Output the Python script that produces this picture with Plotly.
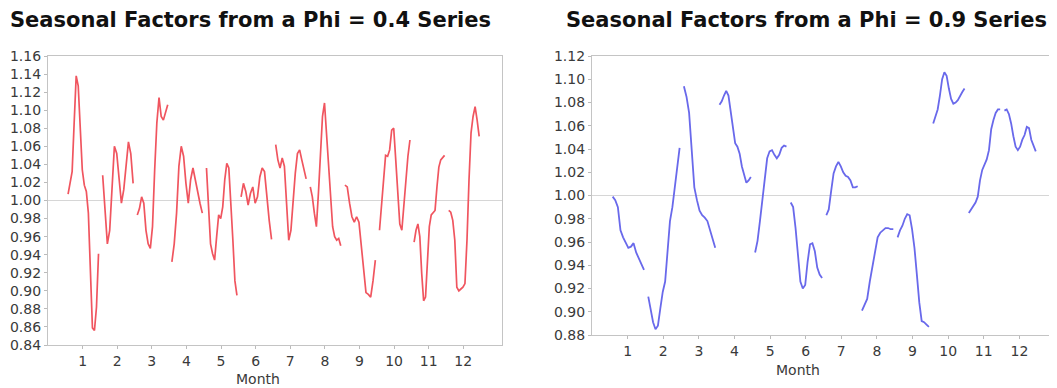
import numpy as np
import plotly.graph_objects as go

months = list(range(1, 13))
month_labels = [str(m) for m in months]

# Seasonal factors (cycle subseries, one list per month) - Phi = 0.4
phi04 = [
    [1.007, 1.019, 1.032, 1.086, 1.138, 1.127, 1.075, 1.034, 1.017, 1.010, 0.986, 0.926, 0.859, 0.856, 0.882, 0.941],
    [1.028, 0.986, 0.952, 0.967, 1.012, 1.060, 1.052, 1.023, 0.997, 1.012, 1.037, 1.065, 1.052, 1.019],
    [0.984, 0.991, 1.004, 0.997, 0.967, 0.952, 0.947, 0.971, 1.034, 1.086, 1.114, 1.093, 1.089, 1.099, 1.106],
    [0.932, 0.952, 0.986, 1.038, 1.060, 1.049, 1.019, 0.997, 1.023, 1.036, 1.023, 1.008, 0.997, 0.986],
    [1.036, 1.000, 0.952, 0.941, 0.934, 0.960, 0.984, 0.980, 0.993, 1.023, 1.041, 1.036, 1.000, 0.956, 0.911, 0.895],
    [1.004, 1.019, 1.010, 0.995, 1.008, 1.015, 0.997, 1.004, 1.026, 1.036, 1.032, 1.004, 0.978, 0.957],
    [1.062, 1.045, 1.036, 1.047, 1.038, 0.993, 0.956, 0.967, 1.000, 1.030, 1.052, 1.056, 1.045, 1.034, 1.024],
    [1.015, 1.004, 0.986, 0.971, 1.008, 1.056, 1.093, 1.108, 1.075, 1.030, 0.997, 0.971, 0.960, 0.956, 0.958, 0.950],
    [1.017, 1.015, 0.997, 0.982, 0.976, 0.982, 0.976, 0.948, 0.919, 0.898, 0.896, 0.893, 0.911, 0.934],
    [0.967, 0.993, 1.023, 1.050, 1.049, 1.056, 1.078, 1.080, 1.045, 1.004, 0.974, 0.967, 0.993, 1.026, 1.049, 1.067],
    [0.954, 0.967, 0.974, 0.960, 0.919, 0.889, 0.893, 0.937, 0.971, 0.984, 0.986, 0.989, 1.015, 1.037, 1.045, 1.047, 1.050],
    [0.989, 0.987, 0.978, 0.956, 0.904, 0.900, 0.902, 0.904, 0.908, 0.956, 1.023, 1.075, 1.093, 1.104, 1.089, 1.071],
]

# Seasonal factors - Phi = 0.9
phi09 = [
    [0.999, 0.996, 0.990, 0.970, 0.964, 0.959, 0.955, 0.956, 0.959, 0.951, 0.946, 0.940, 0.936],
    [0.913, 0.903, 0.891, 0.885, 0.888, 0.903, 0.917, 0.926, 0.949, 0.978, 0.990, 1.007, 1.025, 1.041],
    [1.094, 1.085, 1.071, 1.042, 1.007, 0.996, 0.987, 0.983, 0.981, 0.978, 0.970, 0.961, 0.955],
    [1.078, 1.081, 1.086, 1.090, 1.086, 1.071, 1.057, 1.045, 1.042, 1.036, 1.025, 1.017, 1.011, 1.013, 1.016],
    [0.951, 0.961, 0.978, 0.996, 1.013, 1.032, 1.038, 1.039, 1.035, 1.032, 1.035, 1.041, 1.043, 1.042],
    [0.994, 0.990, 0.972, 0.949, 0.926, 0.920, 0.923, 0.943, 0.958, 0.959, 0.952, 0.938, 0.932, 0.929],
    [0.983, 0.988, 1.004, 1.019, 1.025, 1.029, 1.025, 1.020, 1.017, 1.016, 1.013, 1.007, 1.007, 1.008],
    [0.901, 0.906, 0.911, 0.926, 0.940, 0.952, 0.964, 0.968, 0.970, 0.972, 0.972, 0.971, 0.971],
    [0.964, 0.970, 0.974, 0.980, 0.984, 0.983, 0.971, 0.955, 0.932, 0.908, 0.892, 0.891, 0.889, 0.887],
    [1.062, 1.068, 1.074, 1.086, 1.100, 1.106, 1.103, 1.092, 1.083, 1.079, 1.080, 1.082, 1.086, 1.089, 1.092],
    [0.985, 0.988, 0.991, 0.994, 0.999, 1.013, 1.022, 1.026, 1.031, 1.039, 1.057, 1.065, 1.071, 1.074, 1.074],
    [1.073, 1.074, 1.070, 1.062, 1.051, 1.042, 1.039, 1.042, 1.048, 1.052, 1.059, 1.058, 1.048, 1.042, 1.038],
]

titles = ["Seasonal Factors from a Phi = 0.4 Series", "Seasonal Factors from a Phi = 0.9 Series"]


def build_xy(series):
    xs, ys = [], []
    for m, vals in zip(months, series):
        off = np.linspace(-0.42, 0.46, len(vals))
        xs.extend((m + off).tolist())
        ys.extend(vals)
        xs.append(None)
        ys.append(None)
    return xs, ys


fig = go.Figure()
x1, y1 = build_xy(phi04)
x2, y2 = build_xy(phi09)
fig.add_trace(go.Scatter(x=x1, y=y1, mode="lines", line=dict(color="rgb(240,85,95)", width=1.7),
                         connectgaps=False, xaxis="x", yaxis="y", showlegend=False))
fig.add_trace(go.Scatter(x=x2, y=y2, mode="lines", line=dict(color="rgb(105,105,235)", width=1.8),
                         connectgaps=False, xaxis="x2", yaxis="y2", showlegend=False))

# page body has an 8px margin: figure is drawn offset by 8px
OFF = 8
W, H = 1057 - OFF, 388 - OFF


def px(x):
    return (x - OFF) / W


def py(y):
    return 1 - (y - OFF) / H


axis_common = dict(showline=True, linecolor="#c4c4c4", linewidth=1.2, mirror=True, showgrid=False,
                   zeroline=False, ticks="outside", ticklen=3, tickcolor="#bbbbbb", automargin=False,
                   tickfont=dict(family="DejaVu Sans", size=14, color="#3a3a3a"))

fig.update_layout(
    template="none",
    width=W, height=H,
    margin=dict(l=0, r=0, t=0, b=0, pad=0),
    paper_bgcolor="white", plot_bgcolor="white",
    xaxis=dict(domain=[px(48), px(502)], range=[0.0, 13.12], tickmode="array",
               tickvals=months, ticktext=month_labels, anchor="y", **axis_common),
    yaxis=dict(domain=[py(345), py(56)], range=[0.84, 1.16], dtick=0.02, tick0=0.84,
               tickformat=".2f", anchor="x", **axis_common),
    xaxis2=dict(domain=[px(592), px(1055)], range=[0.0, 13.0], tickmode="array",
                tickvals=months, ticktext=month_labels, anchor="y2", **axis_common),
    yaxis2=dict(domain=[py(335), py(56)], range=[0.88, 1.12], dtick=0.02, tick0=0.88,
                tickformat=".2f", anchor="x2", **axis_common),
)

# reference line at 1.00
fig.add_shape(type="line", xref="x domain", yref="y", x0=0, x1=1, y0=1.0, y1=1.0,
              line=dict(color="#d6d6d6", width=1.2), layer="below")
fig.add_shape(type="line", xref="x2 domain", yref="y2", x0=0, x1=1, y0=1.0, y1=1.0,
              line=dict(color="#d6d6d6", width=1.2), layer="below")

# titles
title_x = [250, 806]
for t, tx in zip(titles, title_x):
    fig.add_annotation(text="<b>" + t + "</b>", x=px(tx), y=py(20), xref="paper", yref="paper",
                       showarrow=False, font=dict(family="DejaVu Sans", size=21, color="#111111"),
                       xanchor="center", yanchor="middle")

# axis labels
fig.add_annotation(text="Month", x=px(258), y=py(379), xref="paper", yref="paper",
                   showarrow=False, font=dict(family="DejaVu Sans", size=14, color="#3a3a3a"),
                   xanchor="center", yanchor="middle")
fig.add_annotation(text="Month", x=px(798), y=py(370), xref="paper", yref="paper",
                   showarrow=False, font=dict(family="DejaVu Sans", size=14, color="#3a3a3a"),
                   xanchor="center", yanchor="middle")

fig.write_html("out.html")
